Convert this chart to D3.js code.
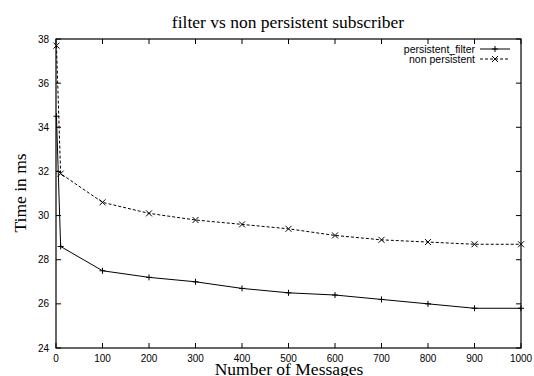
<!DOCTYPE html>
<html>
  <head>
    <meta charset="utf-8">
    <title>filter vs non persistent subscriber</title>
    <script src="https://cdn.jsdelivr.net/npm/d3@7"></script>
    <style>
      body { margin: 0; background: white; }
      .tick_label { font-family: 'Liberation Sans', Arial, sans-serif; font-size: 10px; fill: #000; }
      .title, .axis_title { font-family: 'Liberation Serif', 'Times New Roman', serif; font-size: 17.5px; fill: #000; }
      .legend { font-family: 'Liberation Sans', Arial, sans-serif; font-size: 10.5px; fill: #000; }
      .series { fill: none; stroke: #000; stroke-width: 1px; }
    </style>
  </head>
  <body>
    <script>
      // data
      var messages = [1, 10, 100, 200, 300, 400, 500, 600, 700, 800, 900, 1000];
      var persistentFilter = [34.5, 28.6, 27.5, 27.2, 27.0, 26.7, 26.5, 26.4, 26.2, 26.0, 25.8, 25.8];
      var nonPersistent = [37.7, 31.9, 30.6, 30.1, 29.8, 29.6, 29.4, 29.1, 28.9, 28.8, 28.7, 28.7];
      var xTicks = [0, 100, 200, 300, 400, 500, 600, 700, 800, 900, 1000];
      var yTicks = [24, 26, 28, 30, 32, 34, 36, 38];
      var seriesNames = ["persistent_filter", "non persistent"];

      var width = 534, height = 376;
      // plot frame (top is reserved on window, so use plotTop etc.)
      var plotLeft = 56, plotRight = 521, plotTop = 39, plotBottom = 348;
      var tickLen = 5;

      var svg = d3.select("body").append("svg")
        .attr("width", width)
        .attr("height", height);

      var x = d3.scaleLinear().domain([0, 1000]).range([plotLeft, plotRight]);
      var y = d3.scaleLinear().domain([24, 38]).range([plotBottom, plotTop]);

      // ticks on all four sides, pointing inward
      var ticks = svg.append("g").attr("stroke", "#000").attr("stroke-width", 1);
      xTicks.forEach(function(t) {
        ticks.append("line").attr("x1", x(t)).attr("x2", x(t)).attr("y1", plotBottom).attr("y2", plotBottom - tickLen);
        ticks.append("line").attr("x1", x(t)).attr("x2", x(t)).attr("y1", plotTop).attr("y2", plotTop + tickLen);
      });
      yTicks.forEach(function(t) {
        ticks.append("line").attr("x1", plotLeft).attr("x2", plotLeft + tickLen).attr("y1", y(t)).attr("y2", y(t));
        ticks.append("line").attr("x1", plotRight).attr("x2", plotRight - tickLen).attr("y1", y(t)).attr("y2", y(t));
      });

      svg.selectAll(".xlab")
        .data(xTicks)
        .enter()
        .append("text")
        .attr("class", "tick_label")
        .attr("x", function(d) { return x(d); })
        .attr("y", plotBottom + 14)
        .attr("text-anchor", "middle")
        .text(function(d) { return d; });

      svg.selectAll(".ylab")
        .data(yTicks)
        .enter()
        .append("text")
        .attr("class", "tick_label")
        .attr("x", plotLeft - 7)
        .attr("y", function(d) { return y(d) + 3.5; })
        .attr("text-anchor", "end")
        .text(function(d) { return d; });

      // series lines
      var line = d3.line()
        .x(function(d, i) { return x(messages[i]); })
        .y(function(d) { return y(d); });

      svg.append("path")
        .datum(persistentFilter)
        .attr("class", "series")
        .attr("d", line);

      svg.append("path")
        .datum(nonPersistent)
        .attr("class", "series")
        .attr("stroke-dasharray", "3,2")
        .attr("d", line);

      // markers: plus and cross
      var m = 3;
      var plusPath = function(cx, cy) {
        return "M" + (cx - m) + "," + cy + "H" + (cx + m) + "M" + cx + "," + (cy - m) + "V" + (cy + m);
      };
      var crossPath = function(cx, cy) {
        return "M" + (cx - m) + "," + (cy - m) + "L" + (cx + m) + "," + (cy + m) +
               "M" + (cx - m) + "," + (cy + m) + "L" + (cx + m) + "," + (cy - m);
      };

      svg.selectAll(".pf_mark")
        .data(persistentFilter)
        .enter()
        .append("path")
        .attr("class", "series")
        .attr("d", function(d, i) { return plusPath(x(messages[i]), y(d)); });

      svg.selectAll(".np_mark")
        .data(nonPersistent)
        .enter()
        .append("path")
        .attr("class", "series")
        .attr("d", function(d, i) { return crossPath(x(messages[i]), y(d)); });

      // border
      svg.append("rect")
        .attr("x", plotLeft).attr("y", plotTop)
        .attr("width", plotRight - plotLeft).attr("height", plotBottom - plotTop)
        .attr("fill", "none").attr("stroke", "#000").attr("stroke-width", 1.2);

      // legend
      var legX = 475, legY = 49;
      seriesNames.forEach(function(name, i) {
        var ly = legY + i * 10;
        svg.append("text").attr("class", "legend")
          .attr("x", legX).attr("y", ly + 3.5)
          .attr("text-anchor", "end").text(name);
        svg.append("line").attr("class", "series")
          .attr("x1", legX + 5).attr("x2", legX + 35).attr("y1", ly).attr("y2", ly)
          .attr("stroke-dasharray", i == 1 ? "3,2" : null);
        svg.append("path").attr("class", "series")
          .attr("d", i == 0 ? plusPath(legX + 20, ly) : crossPath(legX + 20, ly));
      });

      // titles
      svg.append("text").attr("class", "title")
        .attr("x", 288).attr("y", 28)
        .attr("text-anchor", "middle")
        .text("filter vs non persistent subscriber");

      svg.append("text").attr("class", "axis_title")
        .attr("x", 289).attr("y", 375)
        .attr("text-anchor", "middle")
        .text("Number of Messages");

      svg.append("text").attr("class", "axis_title")
        .attr("transform", "translate(26,193) rotate(-90)")
        .attr("text-anchor", "middle")
        .text("Time in ms");
    </script>
  </body>
</html>
